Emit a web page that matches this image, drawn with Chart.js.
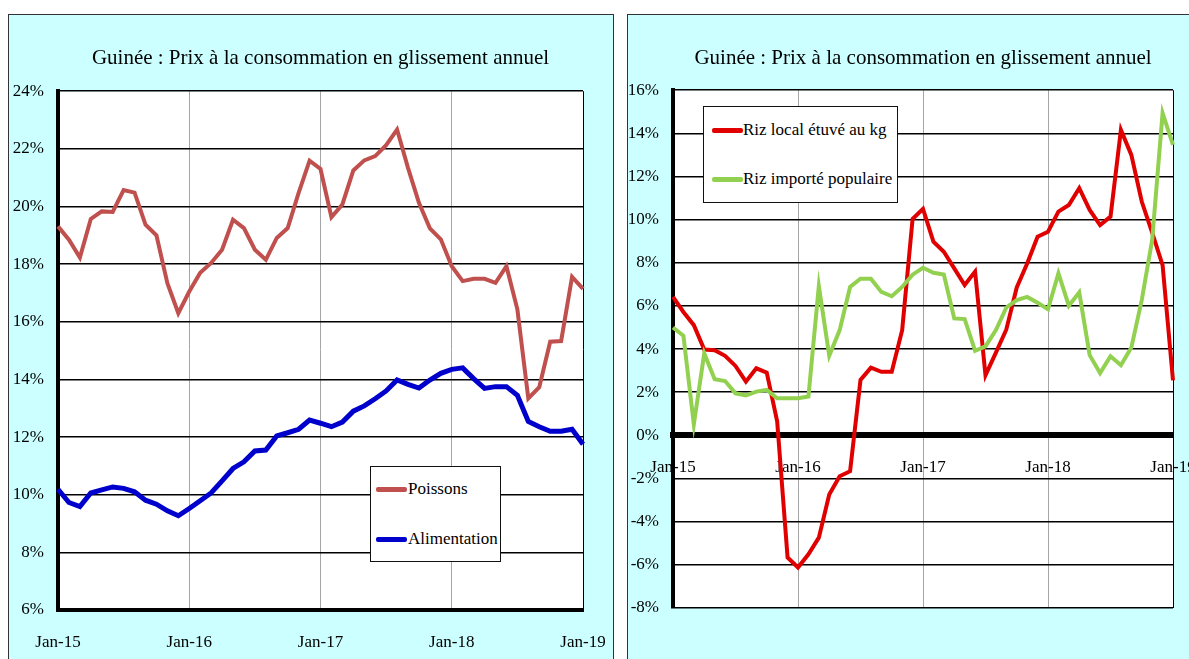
<!DOCTYPE html>
<html>
<head>
<meta charset="utf-8">
<script src="https://cdn.jsdelivr.net/npm/chart.js@4.4.0/dist/chart.umd.min.js"></script>
<style>
body{margin:0;background:#fff;width:1189px;height:659px;overflow:hidden;position:relative;font-family:'Liberation Serif',serif}
.panel{position:absolute;top:14px;height:660px;background:#ccffff;border:1.5px solid #333;box-sizing:border-box}
#p1{left:8px;width:606px}
#p2{left:627px;width:620px}
canvas{position:absolute}
#c1{left:8px;top:14px}
#c2{left:627px;top:14px}
.legend{position:absolute;background:#fff;border:1.5px solid #111;box-sizing:border-box}
.sw{position:absolute;height:5px;border-radius:2px}
.lt{position:absolute;font-size:17px;line-height:22px;color:#000;white-space:nowrap}
</style>
</head>
<body>
<div class="panel" id="p1"></div>
<div class="panel" id="p2"></div>
<canvas id="c1" width="620" height="645"></canvas>
<canvas id="c2" width="620" height="645"></canvas>

<div class="legend" style="left:370px;top:466px;width:131px;height:96px">
  <div class="sw" style="left:5px;top:20px;width:31px;background:#c0504d"></div>
  <div class="lt" style="left:37px;top:11px">Poissons</div>
  <div class="sw" style="left:5px;top:70px;width:31px;background:#0000cc"></div>
  <div class="lt" style="left:37px;top:61px">Alimentation</div>
</div>
<div class="legend" style="left:703px;top:106px;width:195px;height:97px">
  <div class="sw" style="left:8px;top:21px;width:31px;background:#e00000"></div>
  <div class="lt" style="left:39px;top:12px">Riz local étuvé au kg</div>
  <div class="sw" style="left:8px;top:70px;width:31px;background:#92d050"></div>
  <div class="lt" style="left:39px;top:61px">Riz importé populaire</div>
</div>

<script>
var months = ["Jan-15","Feb-15","Mar-15","Apr-15","May-15","Jun-15","Jul-15","Aug-15","Sep-15","Oct-15","Nov-15","Dec-15",
  "Jan-16","Feb-16","Mar-16","Apr-16","May-16","Jun-16","Jul-16","Aug-16","Sep-16","Oct-16","Nov-16","Dec-16",
  "Jan-17","Feb-17","Mar-17","Apr-17","May-17","Jun-17","Jul-17","Aug-17","Sep-17","Oct-17","Nov-17","Dec-17",
  "Jan-18","Feb-18","Mar-18","Apr-18","May-18","Jun-18","Jul-18","Aug-18","Sep-18","Oct-18","Nov-18","Dec-18",
  "Jan-19"];

var titleText = "Guinée : Prix à la consommation en glissement annuel";

// chart 1
var poissons = [19.31,18.85,18.23,19.57,19.83,19.81,20.57,20.48,19.37,19.0,17.34,16.30,
  17.05,17.70,18.04,18.50,19.54,19.25,18.50,18.15,18.91,19.25,20.47,21.59,
  21.30,19.63,20.07,21.25,21.60,21.75,22.13,22.67,21.34,20.13,19.24,18.86,
  17.93,17.41,17.49,17.49,17.35,17.93,16.43,13.34,13.73,15.31,15.33,17.56,
  17.14];
var alimentation = [10.19,9.73,9.59,10.06,10.17,10.27,10.22,10.10,9.81,9.67,9.44,9.27,
  9.52,9.79,10.06,10.48,10.91,11.14,11.52,11.55,12.04,12.15,12.27,12.59,
  12.48,12.36,12.52,12.90,13.08,13.33,13.60,13.98,13.83,13.70,13.98,14.21,
  14.35,14.40,14.03,13.69,13.75,13.75,13.45,12.54,12.36,12.20,12.20,12.27,
  11.75];

// chart 2
var rizLocal = [6.42,5.72,5.11,3.98,3.95,3.69,3.22,2.49,3.11,2.91,0.65,-5.66,
  -6.12,-5.51,-4.74,-2.74,-1.89,-1.66,2.57,3.14,2.95,2.95,4.88,10.03,
  10.50,8.98,8.51,7.74,6.97,7.59,2.79,3.84,4.91,6.86,7.97,9.21,
  9.44,10.37,10.68,11.46,10.45,9.75,10.14,14.16,13.00,10.84,9.40,7.89,
  2.55];
var rizImporte = [5.00,4.62,0.52,3.80,2.60,2.52,1.95,1.85,2.03,2.11,1.72,1.72,
  1.72,1.80,6.92,3.69,4.88,6.88,7.26,7.26,6.65,6.45,6.88,7.45,
  7.77,7.54,7.46,5.42,5.39,3.92,4.13,4.88,5.93,6.27,6.42,6.15,
  5.85,7.51,6.01,6.63,3.72,2.89,3.67,3.25,4.07,6.27,9.06,14.94,
  13.47];

Chart.defaults.font.family = "'Liberation Serif', serif";
Chart.defaults.color = "#000";

// white plot area
var plotBg = {
  id: 'plotBg',
  beforeDraw: function(chart){
    var a = chart.chartArea, ctx = chart.ctx;
    ctx.save();
    ctx.fillStyle = '#fff';
    ctx.fillRect(a.left, a.top, a.right - a.left, a.bottom - a.top);
    ctx.restore();
  }
};

function xGrid(c){
  if(c.index == 48) return '#000';
  return c.index % 12 == 0 ? '#a6a6a6' : 'rgba(0,0,0,0)';
}

function yearTick(v, i){
  return i % 12 == 0 ? months[i] : '';
}

function pct(v){ return v + '%'; }

new Chart(document.getElementById('c1'), {
  type: 'line',
  data: {
    labels: months,
    datasets: [{
      label: 'Poissons',
      data: poissons,
      borderColor: '#c0504d',
      borderWidth: 4,
      pointRadius: 0,
      tension: 0,
      fill: false
    }, {
      label: 'Alimentation',
      data: alimentation,
      borderColor: '#0000cc',
      borderWidth: 5,
      pointRadius: 0,
      tension: 0,
      fill: false
    }]
  },
  options: {
    responsive: false,
    animation: false,
    events: [],
    layout: { padding: { left: 0, right: 45, top: 0, bottom: 0 } },
    plugins: {
      legend: { display: false },
      tooltip: { enabled: false },
      title: {
        display: true,
        text: titleText,
        fullSize: false,
        font: { size: 21, weight: 'normal' },
        color: '#000',
        padding: { top: 32, bottom: 20 }
      }
    },
    scales: {
      x: {
        grid: { color: xGrid, lineWidth: 1, drawTicks: false },
        border: { color: '#000', width: 4 },
        ticks: { autoSkip: false, maxRotation: 0, padding: 22, font: { size: 17 }, callback: yearTick },
        afterFit: function(s){ s.height = 49; }
      },
      y: {
        min: 6, max: 24,
        grid: { color: '#000', lineWidth: 1.5, drawTicks: false },
        border: { color: '#000', width: 4 },
        ticks: { stepSize: 2, padding: 14, font: { size: 17 }, callback: pct },
        afterFit: function(s){ s.width = 50; }
      }
    }
  },
  plugins: [plotBg]
});

new Chart(document.getElementById('c2'), {
  type: 'line',
  data: {
    labels: months,
    datasets: [{
      label: 'Riz local étuvé au kg',
      data: rizLocal,
      borderColor: '#e00000',
      borderWidth: 4,
      pointRadius: 0,
      tension: 0,
      fill: false,
      order: 1
    }, {
      label: 'Riz importé populaire',
      data: rizImporte,
      borderColor: '#92d050',
      borderWidth: 4,
      pointRadius: 0,
      tension: 0,
      fill: false,
      order: 0
    }]
  },
  options: {
    responsive: false,
    animation: false,
    events: [],
    layout: { padding: { left: 0, right: 74, top: 0, bottom: 51 } },
    plugins: {
      legend: { display: false },
      tooltip: { enabled: false },
      title: {
        display: true,
        text: titleText,
        fullSize: false,
        font: { size: 21, weight: 'normal' },
        color: '#000',
        padding: { top: 32, bottom: 19 }
      }
    },
    scales: {
      x: {
        position: { y: 0 },
        grid: { color: xGrid, lineWidth: 1, drawTicks: false },
        border: { color: '#000', width: 6 },
        ticks: { autoSkip: false, maxRotation: 0, padding: 22, font: { size: 17 }, callback: yearTick }
      },
      y: {
        min: -8, max: 16,
        grid: { color: '#000', lineWidth: 1.5, drawTicks: false },
        border: { color: '#000', width: 4 },
        ticks: { stepSize: 2, padding: 14, font: { size: 17 }, callback: pct },
        afterFit: function(s){ s.width = 46; }
      }
    }
  },
  plugins: [plotBg]
});
</script>
</body>
</html>
